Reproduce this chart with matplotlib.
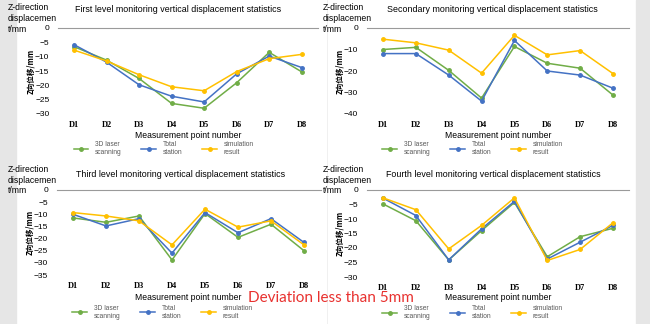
import matplotlib.pyplot as plt
import numpy as np
from matplotlib.lines import Line2D

plt.rcParams['font.family'] = ['Liberation Sans', 'DejaVu Sans']

# 数据
points = ['D1', 'D2', 'D3', 'D4', 'D5', 'D6', 'D7', 'D8']
series_names = ['3D laser\nscanning', 'Total\nstation', 'simulation\nresult']
corner_lines = ['Z-direction', 'displacemen', 't/mm']

level1_laser = [-6.5, -11.2, -17.6, -26.3, -28.0, -19.1, -8.5, -15.3]
level1_total = [-5.8, -11.9, -19.8, -23.8, -25.8, -16.0, -9.8, -13.8]
level1_sim = [-7.7, -11.5, -16.3, -20.5, -21.9, -15.2, -10.7, -9.2]

level2_laser = [-10.0, -9.0, -19.7, -32.6, -8.6, -16.4, -18.7, -31.2]
level2_total = [-11.9, -11.9, -21.9, -34.0, -5.8, -20.0, -21.9, -28.0]
level2_sim = [-5.2, -6.9, -10.3, -21.0, -3.4, -12.5, -10.5, -21.2]

level3_laser = [-11.5, -13.3, -10.7, -28.8, -9.7, -19.5, -14.1, -25.0]
level3_total = [-10.0, -14.8, -11.8, -26.0, -9.3, -17.6, -11.8, -21.6]
level3_sim = [-9.3, -10.7, -12.7, -22.6, -7.9, -15.3, -12.7, -22.6]

level4_laser = [-4.8, -10.6, -24.1, -14.0, -4.3, -23.0, -16.1, -13.2]
level4_total = [-2.8, -8.8, -24.1, -13.4, -3.9, -23.8, -18.0, -12.2]
level4_sim = [-2.7, -6.8, -20.3, -12.2, -2.7, -24.3, -20.5, -11.3]

titles = ['First level monitoring vertical displacement statistics',
          'Secondary monitoring vertical displacement statistics',
          'Third level monitoring vertical displacement statistics',
          'Fourth level monitoring vertical displacement statistics']

colors = ['#70AD47', '#4472C4', '#FFC000']

W, H = 650, 324
fig = plt.figure(figsize=(6.5, 3.24), dpi=100)

# 背景灰条
fig.patches.append(plt.Rectangle((0, 0), 16 / W, 1, transform=fig.transFigure,
                                 color='#e6e6e6', zorder=0))
fig.patches.append(plt.Rectangle((636 / W, 0), 14 / W, 1, transform=fig.transFigure,
                                 color='#e6e6e6', zorder=0))
fig.add_artist(Line2D([327 / W, 327 / W], [0, 1], color='#eeeeee', lw=0.6))


def px_axes(left, right, top, bottom):
    return fig.add_axes([left / W, 1 - bottom / H, (right - left) / W, (bottom - top) / H])


# (left, right, top, bottom, ymin, ystep, title x, title y, corner x, corner y, xlabel y, legend y)
panels = [
    (57.7, 318, 28, 114, -30, 5, 178, 10, 8, 8, 135, 149,
     [level1_laser, level1_total, level1_sim]),
    (366.6, 629.4, 28, 114, -40, 10, 492, 10, 323, 8, 135, 149,
     [level2_laser, level2_total, level2_sim]),
    (56.5, 320.5, 190, 275, -35, 5, 181, 174, 8, 170, 297, 312,
     [level3_laser, level3_total, level3_sim]),
    (366.6, 629.4, 190, 277, -30, 5, 493, 174, 323, 170, 297, 313,
     [level4_laser, level4_total, level4_sim]),
]

x = np.arange(len(points))
for i, (l, r, t, b, ymin, ystep, tx, ty, cx, cy, xly, lgy, data) in enumerate(panels):
    ax = px_axes(l, r, t, b)
    lines = []
    for vals, c, name in zip(data, colors, series_names):
        ln, = ax.plot(x, vals, color=c, lw=1.1, marker='o', ms=2.5, label=name, clip_on=False)
        lines.append(ln)
    ax.set_xlim(-0.5, len(points) - 0.5)
    ax.set_ylim(ymin, 0)
    ax.set_yticks(np.arange(0, ymin - 1, -ystep))
    ax.set_xticks(x)
    ax.set_xticklabels(points, fontfamily='Liberation Serif', fontweight='bold', fontsize=6)
    ax.tick_params(axis='y', length=0, labelsize=6, pad=6)
    ax.tick_params(axis='x', length=0, pad=5)
    for s in ['left', 'right', 'bottom']:
        ax.spines[s].set_visible(False)
    ax.spines['top'].set_color('#9a9a9a')
    ax.spines['top'].set_linewidth(0.8)
    ax.patch.set_alpha(0)

    fig.text(tx / W, 1 - ty / H, titles[i], ha='center', va='center', fontsize=6.4)
    # 左上角单位, 逐行写
    for k, txt in enumerate(corner_lines):
        fig.text(cx / W, 1 - (cy + 10.5 * k) / H, txt, ha='left', va='center', fontsize=6.2)
    fig.text((l + r) / 2 / W, 1 - xly / H, 'Measurement point number', ha='center',
             va='center', fontsize=6.2)
    fig.text((l - 27) / W, 1 - (t + b) / 2 / H, 'Z向位移/mm', rotation=90, ha='center',
             va='center', fontsize=5.5, fontweight='bold',
             family=['Noto Sans CJK SC', 'DejaVu Sans'])
    ax.legend(handles=lines, loc='center', ncol=3, frameon=False, fontsize=4.8,
              bbox_to_anchor=((l + 106) / W, 1 - lgy / H),
              bbox_transform=fig.transFigure, handlelength=2.2, columnspacing=3.0,
              handletextpad=1.0, labelcolor='#595959')

fig.text(331 / W, 1 - 298 / H, 'Deviation less than 5mm', ha='center', va='center',
         fontsize=11, color='#e8312f', family=['Lato', 'DejaVu Sans'])

fig.savefig('out.png', dpi=100)
